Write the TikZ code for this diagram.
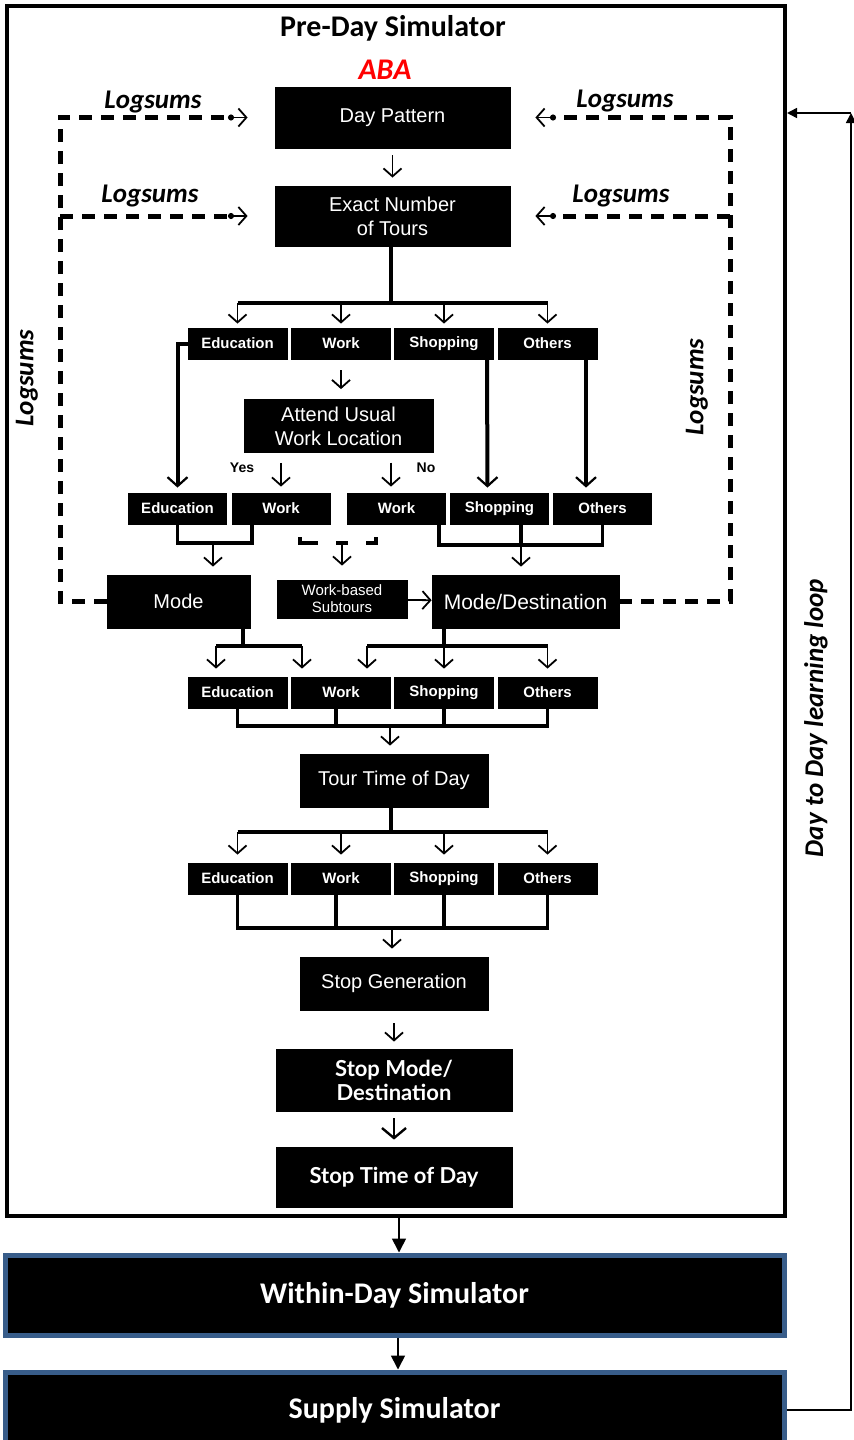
\documentclass[tikz,border=0pt]{standalone}
\usepackage{fontspec}
\setmainfont{Liberation Sans}
\newfontfamily\calfont{Carlito}
\newfontfamily\gillfont{Lato}
\usetikzlibrary{arrows.meta}
\definecolor{simblue}{RGB}{56,93,138}

\begin{document}
\begin{tikzpicture}[x=0.5pt, y=-0.5pt,
		box_style/.style={rectangle,fill=black,draw=black,text=white,inner sep=1pt,align=center,font=\fontsize{10}{12}\selectfont},
		tag_style/.style={box_style,minimum width=49.5pt,minimum height=15.5pt,font=\bfseries\fontsize{7.5}{9}\selectfont},
		stop_style/.style={box_style,minimum width=118pt,font=\gillfont\bfseries\fontsize{11}{12}\selectfont},
		sim_style/.style={rectangle,fill=black,draw=simblue,line width=2.5pt,text=white,minimum width=389.5pt,font=\calfont\bfseries\fontsize{15}{18}\selectfont},
		frame_style/.style={rectangle,draw=black,line width=2pt},
		title_style/.style={font=\calfont\bfseries\fontsize{15}{18}\selectfont},
		log_style/.style={font=\calfont\bfseries\itshape\fontsize{13.5}{16}\selectfont},
		small_style/.style={font=\bfseries\fontsize{7}{8}\selectfont},
		stem_style/.style={line width=1.6pt},
		arrow_style/.style={line width=0.9pt,-{Straight Barb[length=4pt,width=9pt]},shorten >=2pt},
		long_style/.style={line width=2pt,-{Straight Barb[length=4.5pt,width=10pt,line width=1.1pt]},shorten >=2.5pt},
		dash_style/.style={line width=2.5pt,dash pattern=on 6.5pt off 4.5pt},
		log_arrow/.style={line width=0.9pt,{Circle[length=3pt]}-{Straight Barb[length=4pt,width=9pt]}},
		sim_arrow/.style={line width=0.8pt,-{Triangle[length=7pt,width=7pt]}},
		loop_style/.style={line width=0.8pt,-{Triangle[length=5pt,width=5pt]}}]

		\useasboundingbox (0,0) rectangle (854,1440);

		% pre-day block
		\node[frame_style,minimum width=389pt,minimum height=605pt] (preday) at (396,611) {};
		\node[title_style] (title) at (393,28) {Pre-Day Simulator};
		\node[title_style,text=red,font=\calfont\bfseries\itshape\fontsize{15}{18}\selectfont] (aba) at (385,70) {ABA};

		\node[box_style,minimum width=117.5pt,minimum height=30.5pt] (dp) at (392.5,117.5) {Day Pattern};
		\node[box_style,minimum width=117.5pt,minimum height=30pt] (ent) at (392.5,216) {Exact Number\\of Tours};

		\node[tag_style] (edu1) at (237.5,343.5) {Education};
		\node[tag_style] (work1) at (341,343.5) {Work};
		\node[tag_style] (shop1) at (444,343.5) {Shopping};
		\node[tag_style] (oth1) at (547.5,343.5) {Others};

		\node[box_style,minimum width=94.5pt,minimum height=26.5pt] (aul) at (338.5,426) {Attend Usual\\Work Location};
		\node[small_style] (yes) at (242,468) {Yes};
		\node[small_style] (no) at (426,468) {No};

		\node[tag_style,minimum width=49pt] (edu2) at (177.5,508.5) {Education};
		\node[tag_style,minimum width=49pt] (work2a) at (281,508.5) {Work};
		\node[tag_style,minimum width=49pt] (work2b) at (396.5,508.5) {Work};
		\node[tag_style,minimum width=49pt] (shop2) at (499.5,508.5) {Shopping};
		\node[tag_style,minimum width=49pt] (oth2) at (602.5,508.5) {Others};

		\node[box_style,minimum width=71.5pt,minimum height=26.5pt] (mode) at (178.5,601.5) {Mode};
		\node[box_style,minimum width=65pt,minimum height=19pt,font=\fontsize{7.5}{8.5}\selectfont] (wb) at (342,599) {Work-based\\Subtours};
		\node[box_style,minimum width=93.5pt,minimum height=26.5pt,font=\fontsize{10.5}{12}\selectfont] (mdest) at (525.5,601.5) {Mode/Destination};

		\node[tag_style] (edu3) at (237.5,692.5) {Education};
		\node[tag_style] (work3) at (341,692.5) {Work};
		\node[tag_style] (shop3) at (444,692.5) {Shopping};
		\node[tag_style] (oth3) at (547.5,692.5) {Others};

		\node[box_style,minimum width=94pt,minimum height=26.5pt] (ttod) at (394,780.5) {Tour Time of Day};

		\node[tag_style] (edu4) at (237.5,878.5) {Education};
		\node[tag_style] (work4) at (341,878.5) {Work};
		\node[tag_style] (shop4) at (444,878.5) {Shopping};
		\node[tag_style] (oth4) at (547.5,878.5) {Others};

		\node[box_style,minimum width=94pt,minimum height=26.5pt] (sgen) at (394,983.5) {Stop Generation};
		\node[stop_style,minimum height=31pt] (smd) at (394,1080) {Stop Mode/\\Destination};
		\node[stop_style,minimum height=30pt] (stod) at (394,1177) {Stop Time of Day};

		% simulators
		\node[sim_style,minimum height=40pt] (within) at (394.5,1295) {Within-Day Simulator};
		\node[sim_style,minimum height=38pt] (supply) at (394.5,1410) {Supply Simulator};

		% junction points
		\coordinate (f1) at (391,303);
		\coordinate (noS) at (391,452.5);
		\coordinate (j2a) at (213,543);
		\coordinate (j2b) at (521,545);
		\coordinate (wbS) at (342,543);
		\coordinate (f3a) at (243,646);
		\coordinate (f3a1) at (216,646);
		\coordinate (f3a2) at (302,646);
		\coordinate (f3b) at (444,646);
		\coordinate (f3b1) at (367,646);
		\coordinate (j3) at (390,726);
		\coordinate (f4) at (391,832);
		\coordinate (j4) at (392,928);

		% main flow
		\draw[arrow_style,shorten <=3.5pt,shorten >=4pt] (dp) -- (ent);
		\draw[stem_style] (ent.south -| f1) -- (f1);
		\draw[stem_style] (f1 -| edu1.north) -- (f1 -| oth1.north);
		\draw[arrow_style] (f1 -| edu1.north) -- (edu1.north);
		\draw[arrow_style] (f1 -| work1.north) -- (work1.north);
		\draw[arrow_style] (f1 -| shop1.north) -- (shop1.north);
		\draw[arrow_style] (f1 -| oth1.north) -- (oth1.north);

		\draw[arrow_style,shorten <=5.5pt,shorten >=5pt] (work1.south) -- (work1.south |- aul.north);
		\draw[arrow_style,shorten <=5pt,shorten >=3pt] (aul.south -| work2a.north) -- (work2a.north);
		\draw[arrow_style,shorten <=5pt,shorten >=3pt] (noS) -- (noS |- work2b.north);

		\draw[long_style] (edu1.west) -| (edu2.north);
		\draw[long_style] ([xshift=21.5pt]shop1.south) -- ([xshift=-6pt]shop2.north);
		\draw[long_style] ([xshift=19.25pt]oth1.south) -- ([xshift=-8.25pt]oth2.north);

		\draw[stem_style] (edu2.south) |- (j2a) -| ([xshift=-14.5pt]work2a.south);
		\draw[arrow_style,shorten >=4pt] (j2a) -- (j2a |- mode.north);
		\draw[line width=2pt,dash pattern=on 12pt off 9pt on 6pt off 9pt on 8pt] (300,537) -- (300,543) -- (376,543) -- (376,537);
		\draw[arrow_style,shorten >=7pt] (wbS) -- (wbS |- wb.north);
		\draw[stem_style] ([xshift=21.25pt]work2b.south) |- (j2b) -| (oth2.south);
		\draw[stem_style] (shop2.south -| j2b) -- (j2b);
		\draw[arrow_style,shorten >=4pt] (j2b) -- (j2b |- mdest.north);
		\draw[arrow_style,shorten >=0pt] (wb) -- (mdest);

		\draw[stem_style] (f3a |- mode.south) -- (f3a);
		\draw[stem_style] (f3a1) -- (f3a2);
		\draw[arrow_style,shorten >=4pt] (f3a1) -- (f3a1 |- edu3.north);
		\draw[arrow_style,shorten >=4pt] (f3a2) -- (f3a2 |- work3.north);
		\draw[stem_style] (f3b |- mdest.south) -- (f3b);
		\draw[stem_style] (f3b1) -- (f3b -| oth3.north);
		\draw[arrow_style,shorten >=4pt] (f3b1) -- (f3b1 |- work3.north);
		\draw[arrow_style,shorten >=4pt] (f3b) -- (shop3.north);
		\draw[arrow_style,shorten >=4pt] (f3b -| oth3.north) -- (oth3.north);

		\draw[stem_style] (edu3.south) |- (j3) -| (oth3.south);
		\draw[stem_style] ([xshift=-2.5pt]work3.south) -- ([xshift=-2.5pt]work3.south |- j3);
		\draw[stem_style] (shop3.south) -- (shop3.south |- j3);
		\draw[arrow_style,shorten >=4pt] (j3) -- (j3 |- ttod.north);

		\draw[stem_style] (ttod.south -| f4) -- (f4);
		\draw[stem_style] (f4 -| edu4.north) -- (f4 -| oth4.north);
		\draw[arrow_style,shorten >=4pt] (f4 -| edu4.north) -- (edu4.north);
		\draw[arrow_style,shorten >=4pt] (f4 -| work4.north) -- (work4.north);
		\draw[arrow_style,shorten >=4pt] (f4 -| shop4.north) -- (shop4.north);
		\draw[arrow_style,shorten >=4pt] (f4 -| oth4.north) -- (oth4.north);

		\draw[stem_style] (edu4.south) |- (j4) -| (oth4.south);
		\draw[stem_style] ([xshift=-2.5pt]work4.south) -- ([xshift=-2.5pt]work4.south |- j4);
		\draw[stem_style] (shop4.south) -- (shop4.south |- j4);
		\draw[arrow_style,shorten >=4pt] (j4) -- (j4 |- sgen.north);

		\draw[arrow_style,shorten <=6.5pt,shorten >=3.5pt] (sgen) -- (smd);
		\draw[arrow_style,line width=1.2pt,-{Straight Barb[length=5pt,width=12pt]},shorten <=3.5pt,shorten >=3.5pt] (smd) -- (stod);

		% logsums loops
		\coordinate (lp1) at (60,117.5);
		\coordinate (lp2) at (60,216);
		\coordinate (la1) at (228,117.5);
		\coordinate (la2) at (228,216);
		\coordinate (rp1) at (730,117.5);
		\coordinate (rp2) at (730,216);
		\coordinate (ra1) at (556,117.5);
		\coordinate (ra2) at (556,216);

		\draw[dash_style] (mode.west) -- (mode.west -| lp1) -- (lp1) -- (la1);
		\draw[dash_style] (lp2) -- (la2);
		\draw[log_arrow,shorten >=13.5pt] (la1) -- (dp.west);
		\draw[log_arrow,shorten >=13.5pt] (la2) -- (ent.west);
		\draw[dash_style] (mdest.east) -- (mdest.east -| rp1) -- (rp1) -- (ra1);
		\draw[dash_style] (rp2) -- (ra2);
		\draw[log_arrow,shorten >=12.5pt] (ra1) -- (dp.east);
		\draw[log_arrow,shorten >=12.5pt] (ra2) -- (ent.east);

		\node[log_style] (ls1) at (153,102) {Logsums};
		\node[log_style] (ls2) at (150,196) {Logsums};
		\node[log_style] (ls3) at (625,101) {Logsums};
		\node[log_style] (ls4) at (621,196) {Logsums};
		\node[log_style,rotate=90] (ls5) at (27,378) {Logsums};
		\node[log_style,rotate=90] (ls6) at (697,387) {Logsums};

		% simulator links
		\draw[sim_arrow] ([xshift=1.5pt]preday.south) -- ([xshift=1.5pt]preday.south |- within.north);
		\draw[sim_arrow] ([xshift=1.75pt]within.south) -- ([xshift=1.75pt]within.south |- supply.north);

		\coordinate (fbc) at (851,113);
		\draw[loop_style] (supply.east) -| (fbc);
		\draw[loop_style] (fbc) -- (fbc -| preday.east);
		\node[log_style,rotate=90] (dtd) at (816,718) {Day to Day learning loop};

\end{tikzpicture}
\end{document}
